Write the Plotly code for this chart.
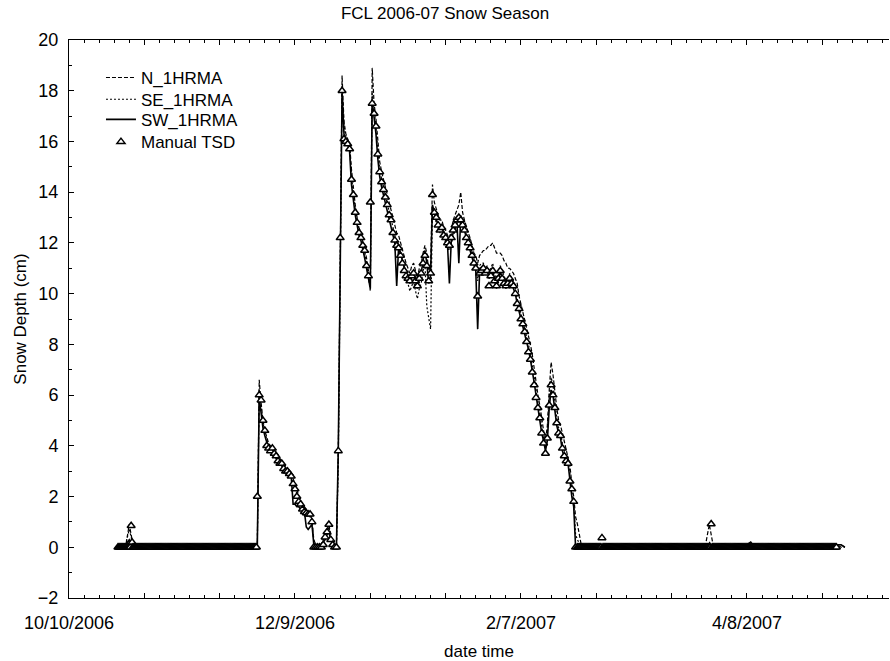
import pandas as pd
import plotly.graph_objects as go

# ---------------- data ----------------
# tick positions (every 20 days) and their labels
tick_dates = ["2006-10-10", "2006-10-30", "2006-11-19", "2006-12-09", "2006-12-29",
              "2007-01-18", "2007-02-07", "2007-02-27", "2007-03-19", "2007-04-08",
              "2007-04-28"]
tick_labels = ["10/10/2006", "", "", "12/9/2006", "", "", "2/7/2007", "", "", "4/8/2007", ""]

# time grids
pre_dates = pd.date_range("2006-10-23", "2006-11-28", freq="D")                  # 37 days
snow_dates = pd.date_range("2006-11-29", periods=170, freq="12h")                # 85 days, 12-hourly
post_dates = pd.date_range("2007-02-22", "2007-05-04", freq="D")                 # 72 days
manual_pre_dates = pd.date_range("2006-10-23", periods=148, freq="6h")           # to Nov 28 18:00
manual_post_dates = pd.date_range("2007-02-22", periods=276, freq="6h")          # to May 1 18:00

# bare ground before the season (daily)
pre_n = [0.1, 0.1, 0.0, 0.9, 0.1, 0.1, 0.0, 0.1, 0.1, 0.0,
         0.1, 0.1, 0.0, 0.1, 0.1, 0.0, 0.1, 0.1, 0.0, 0.1,
         0.1, 0.0, 0.1, 0.1, 0.0, 0.1, 0.1, 0.0, 0.1, 0.1,
         0.0, 0.1, 0.1, 0.0, 0.1, 0.1, 0.1]
pre_se = [0.0, 0.1, 0.1, 0.7, 0.1, 0.0, 0.1, 0.1, 0.0, 0.1,
          0.1, 0.0, 0.1, 0.1, 0.0, 0.1, 0.0, 0.1, 0.1, 0.0,
          0.1, 0.1, 0.0, 0.1, 0.1, 0.0, 0.1, 0.1, 0.0, 0.1,
          0.1, 0.0, 0.1, 0.1, 0.0, 0.1, 0.0]
pre_sw = [0.1, 0.0, 0.1, 0.3, 0.0, 0.1, 0.1, 0.0, 0.1, 0.1,
          0.0, 0.1, 0.1, 0.0, 0.1, 0.1, 0.0, 0.1, 0.0, 0.1,
          0.0, 0.1, 0.1, 0.0, 0.1, 0.0, 0.1, 0.1, 0.0, 0.1,
          0.0, 0.1, 0.0, 0.1, 0.1, 0.0, 0.1]
# manual readings before the season (6-hourly)
pre_manual = [0, 0, 0, 0, 0, 0, 0, 0, 0, 0, 0, 0, 0, 0, 0.85, 0.2, 0, 0, 0, 0,
              0, 0, 0, 0, 0, 0, 0, 0, 0, 0, 0, 0, 0, 0, 0, 0, 0, 0, 0, 0,
              0, 0, 0, 0, 0, 0, 0, 0, 0, 0, 0, 0, 0, 0, 0, 0, 0, 0, 0, 0,
              0, 0, 0, 0, 0, 0, 0, 0, 0, 0, 0, 0, 0, 0, 0, 0, 0, 0, 0, 0,
              0, 0, 0, 0, 0, 0, 0, 0, 0, 0, 0, 0, 0, 0, 0, 0, 0, 0, 0, 0,
              0, 0, 0, 0, 0, 0, 0, 0, 0, 0, 0, 0, 0, 0, 0, 0, 0, 0, 0, 0,
              0, 0, 0, 0, 0, 0, 0, 0, 0, 0, 0, 0, 0, 0, 0, 0, 0, 0, 0, 0,
              0, 0, 0, 0, 0, 0, 0, 0]

# snow season, 12-hourly
snow_sw = [0.1, 5.9, 5.3, 4.7, 4.4, 4.1, 3.9, 3.8, 3.7, 3.6,
           3.5, 3.4, 3.3, 3.2, 3.1, 3.0, 2.9, 2.9, 2.8, 1.7,
           1.7, 1.6, 1.6, 1.5, 1.5, 1.4, 0.8, 0.7, 0.8, 0.9,
           0.1, 0.0, 0.0, 0.0, 0.0, 0.2, 0.3, 0.5, 0.6, 0.3,
           0.1, 0.0, 0.0, 3.9, 12.3, 17.9, 16.3, 16.0, 15.9, 15.6,
           14.3, 13.6, 13.1, 12.7, 12.3, 12.1, 11.8, 11.4, 11.0, 10.5,
           10.2, 17.6, 17.0, 16.3, 15.3, 14.6, 14.2, 13.9, 13.6, 13.3,
           13.0, 12.7, 12.3, 12.0, 10.3, 11.8, 11.6, 11.3, 11.0, 10.8,
           10.6, 10.4, 10.7, 10.9, 10.5, 10.2, 10.6, 10.8, 11.3, 11.7,
           11.2, 10.4, 10.7, 13.5, 13.2, 12.9, 12.7, 12.5, 12.6, 12.3,
           12.1, 11.9, 10.4, 12.1, 12.4, 12.6, 12.8, 11.2, 13.0, 12.7,
           12.5, 12.2, 12.0, 11.7, 11.4, 11.1, 10.9, 8.6, 10.8, 10.9,
           11.0, 10.8, 10.9, 10.6, 10.7, 10.9, 10.5, 10.2, 10.6, 10.9,
           10.6, 10.4, 10.2, 10.4, 10.6, 10.4, 10.2, 10.0, 9.6, 9.3,
           9.0, 8.8, 8.5, 8.2, 7.8, 7.4, 7.0, 6.5, 6.0, 5.5,
           5.0, 4.5, 4.2, 3.8, 4.2, 5.5, 6.2, 6.0, 5.4, 4.8,
           4.5, 4.3, 3.8, 3.5, 3.3, 3.3, 2.6, 2.0, 1.6, 0.0]
snow_se = [0.1, 6.2, 5.5, 4.9, 4.5, 4.2, 4.0, 3.9, 3.8, 3.7,
           3.6, 3.5, 3.4, 3.3, 3.2, 3.1, 3.0, 2.9, 2.8, 2.6,
           2.4, 2.1, 1.9, 1.7, 1.6, 1.5, 1.4, 1.3, 1.2, 1.0,
           0.2, 0.0, 0.0, 0.0, 0.1, 0.3, 0.4, 0.6, 0.8, 0.4,
           0.2, 0.1, 0.0, 3.5, 12.0, 18.2, 16.6, 16.2, 16.0, 15.8,
           14.6, 13.8, 13.3, 12.9, 12.5, 12.3, 12.0, 11.6, 11.2, 10.7,
           10.1, 17.9, 17.2, 16.6, 15.6, 14.9, 14.5, 14.2, 13.9, 13.6,
           13.2, 12.9, 12.6, 12.3, 12.0, 11.9, 11.6, 11.4, 11.0, 10.7,
           10.4, 10.1, 10.3, 10.5, 10.1, 9.8, 10.2, 10.4, 10.9, 11.2,
           9.5, 9.0, 8.6, 13.3, 13.1, 12.8, 12.6, 12.4, 12.4, 12.2,
           12.0, 11.8, 11.7, 12.0, 12.3, 12.5, 12.7, 12.9, 13.1, 12.7,
           12.5, 12.3, 12.1, 11.9, 11.6, 11.4, 11.2, 10.5, 11.1, 11.2,
           11.2, 11.0, 11.1, 10.9, 11.0, 11.2, 10.8, 10.6, 10.9, 11.1,
           10.9, 10.7, 10.5, 10.6, 10.8, 10.6, 10.4, 10.2, 9.8, 9.5,
           9.2, 9.0, 8.7, 8.4, 8.0, 7.6, 7.2, 6.7, 6.2, 5.7,
           5.2, 4.7, 4.3, 4.0, 4.5, 5.9, 6.7, 6.4, 5.7, 5.1,
           4.7, 4.5, 4.1, 3.8, 3.5, 3.4, 2.9, 2.2, 1.8, 0.5]
snow_n = [0.2, 6.6, 5.7, 5.0, 4.6, 4.3, 4.1, 4.0, 3.9, 3.8,
          3.7, 3.6, 3.5, 3.4, 3.3, 3.2, 3.1, 3.0, 2.9, 2.7,
          2.5, 2.3, 2.0, 1.8, 1.7, 1.6, 1.5, 1.4, 1.3, 1.1,
          0.3, 0.1, 0.0, 0.0, 0.1, 0.3, 0.5, 0.7, 0.9, 0.5,
          0.2, 0.1, 0.0, 3.8, 12.6, 18.6, 16.8, 16.3, 16.1, 15.9,
          14.9, 14.1, 13.5, 13.0, 12.6, 12.4, 12.1, 11.8, 11.4, 10.9,
          10.3, 18.9, 17.5, 16.9, 15.9, 15.2, 14.8, 14.5, 14.2, 13.9,
          13.6, 13.3, 12.9, 12.6, 12.4, 12.3, 12.0, 11.8, 11.5, 11.2,
          11.0, 10.8, 11.1, 11.2, 10.9, 10.6, 11.0, 11.2, 11.6, 11.9,
          11.6, 10.9, 11.1, 14.3, 13.6, 13.3, 13.1, 12.9, 12.9, 12.6,
          12.5, 12.3, 12.2, 12.5, 12.9, 13.1, 13.3, 13.5, 14.0, 13.2,
          12.9, 12.6, 12.4, 12.2, 11.9, 11.6, 11.5, 11.2, 11.5, 11.6,
          11.7, 11.7, 11.8, 11.9, 11.9, 12.0, 11.8, 11.6, 11.6, 11.6,
          11.5, 11.3, 11.2, 11.0, 11.0, 10.9, 10.8, 10.6, 10.4, 9.9,
          9.6, 9.2, 9.0, 8.7, 8.4, 8.0, 7.6, 7.0, 6.6, 6.0,
          5.6, 5.0, 4.6, 4.2, 4.8, 6.2, 7.3, 6.8, 6.0, 5.5,
          5.0, 4.8, 4.5, 4.2, 3.8, 3.6, 3.2, 2.5, 2.0, 1.2]
snow_manual = [2.0, 6.0, 5.8, 5.0, 4.6, 4.0, 3.9, 3.8, 3.9, 3.7,
               3.6, 3.4, 3.3, 3.3, 3.1, 3.0, 3.0, 2.9, 2.8, 2.5,
               2.3, 2.0, 1.8, 1.7, 1.5, 1.4, 1.35, 1.3, 1.3, 1.0,
               0.0, 0.0, 0.0, 0.0, 0.0, 0.1, 0.4, 0.6, 0.9, 0.3,
               0.1, 0.0, 0.0, 3.8, 12.2, 18.0, 16.1, 16.0, 15.9, 15.7,
               14.5, 13.9, 13.2, 12.8, 12.4, 12.2, 11.9, 11.7, 11.1, 10.7,
               13.6, 17.5, 17.1, 16.6, 15.5, 14.8, 14.4, 14.1, 13.8, 13.5,
               13.1, 12.9, 12.4, 12.1, 11.9, 11.8, 11.5, 11.2, 10.9, 10.7,
               10.6, 10.5, 10.7, 10.8, 10.5, 10.3, 10.6, 10.8, 11.2, 11.5,
               11.1, 10.5, 10.8, 13.9, 13.2, 13.0, 12.7, 12.5, 12.6, 12.3,
               12.2, 12.0, 11.9, 12.2, 12.5, 12.7, 12.9, 13.0, 12.9, 12.7,
               12.5, 12.2, 12.0, 11.8, 11.5, 11.2, 11.0, 9.9, 10.8, 10.9,
               11.0, 10.8, 10.9, 10.3, 10.7, 10.9, 10.5, 10.3, 10.6, 10.9,
               10.6, 10.4, 10.3, 10.4, 10.6, 10.4, 10.3, 10.0, 9.6, 9.4,
               9.0, 8.8, 8.5, 8.1, 7.7, 7.4, 6.9, 6.4, 5.9, 5.5,
               5.1, 4.5, 4.1, 3.7, 4.3, 5.6, 6.4, 6.0, 5.5, 4.9,
               4.5, 4.4, 3.9, 3.6, 3.4, 3.3, 2.6, 2.3, 1.8, 0.0]

# bare ground after melt-out (daily)
post_n = [0.9, 0.1, 0.0, 0.1, 0.1, 0.0, 0.1, 0.1, 0.0, 0.1,
          0.1, 0.0, 0.1, 0.1, 0.0, 0.1, 0.1, 0.0, 0.1, 0.1,
          0.0, 0.1, 0.1, 0.0, 0.1, 0.1, 0.0, 0.1, 0.1, 0.0,
          0.1, 0.1, 0.0, 0.1, 0.1, 0.9, 0.1, 0.0, 0.1, 0.1,
          0.0, 0.1, 0.1, 0.0, 0.1, 0.1, 0.0, 0.1, 0.1, 0.0,
          0.1, 0.1, 0.0, 0.1, 0.1, 0.0, 0.1, 0.1, 0.0, 0.1,
          0.1, 0.0, 0.1, 0.1, 0.0, 0.1, 0.1, 0.0, 0.1, 0.1,
          0.0, 0.0]
post_se = [0.3, 0.0, 0.1, 0.1, 0.0, 0.1, 0.0, 0.1, 0.1, 0.0,
           0.1, 0.1, 0.0, 0.1, 0.0, 0.1, 0.1, 0.0, 0.1, 0.0,
           0.1, 0.1, 0.0, 0.1, 0.1, 0.0, 0.1, 0.0, 0.1, 0.1,
           0.0, 0.1, 0.1, 0.0, 0.1, 0.2, 0.0, 0.1, 0.1, 0.0,
           0.1, 0.0, 0.1, 0.1, 0.0, 0.1, 0.1, 0.0, 0.1, 0.0,
           0.1, 0.1, 0.0, 0.1, 0.1, 0.0, 0.1, 0.0, 0.1, 0.1,
           0.0, 0.1, 0.1, 0.0, 0.1, 0.0, 0.1, 0.1, 0.0, 0.1,
           0.1, 0.0]
post_sw = [0.0, 0.1, 0.0, 0.1, 0.1, 0.0, 0.1, 0.0, 0.1, 0.1,
           0.0, 0.1, 0.1, 0.0, 0.1, 0.0, 0.1, 0.1, 0.0, 0.1,
           0.0, 0.1, 0.1, 0.0, 0.1, 0.0, 0.1, 0.1, 0.0, 0.1,
           0.1, 0.0, 0.1, 0.0, 0.1, 0.1, 0.0, 0.1, 0.0, 0.1,
           0.1, 0.0, 0.1, 0.1, 0.0, 0.1, 0.2, 0.0, 0.1, 0.1,
           0.0, 0.1, 0.0, 0.1, 0.1, 0.0, 0.1, 0.1, 0.0, 0.1,
           0.0, 0.1, 0.1, 0.0, 0.1, 0.0, 0.1, 0.1, 0.0, 0.1,
           0.1, 0.0]
# manual readings after melt-out (6-hourly)
post_manual = [0, 0, 0, 0, 0, 0, 0, 0, 0, 0, 0, 0, 0, 0, 0, 0, 0, 0, 0, 0,
               0, 0, 0, 0, 0, 0, 0.37, 0, 0, 0, 0, 0, 0, 0, 0, 0, 0, 0, 0, 0,
               0, 0, 0, 0, 0, 0, 0, 0, 0, 0, 0, 0, 0, 0, 0, 0, 0, 0, 0, 0,
               0, 0, 0, 0, 0, 0, 0, 0, 0, 0, 0, 0, 0, 0, 0, 0, 0, 0, 0, 0,
               0, 0, 0, 0, 0, 0, 0, 0, 0, 0, 0, 0, 0, 0, 0, 0, 0, 0, 0, 0,
               0, 0, 0, 0, 0, 0, 0, 0, 0, 0, 0, 0, 0, 0, 0, 0, 0, 0, 0, 0,
               0, 0, 0, 0, 0, 0, 0, 0, 0, 0, 0, 0, 0, 0, 0, 0, 0, 0, 0, 0,
               0, 0, 0.92, 0, 0, 0, 0, 0, 0, 0, 0, 0, 0, 0, 0, 0, 0, 0, 0, 0,
               0, 0, 0, 0, 0, 0, 0, 0, 0, 0, 0, 0, 0, 0, 0, 0, 0, 0, 0, 0,
               0, 0, 0, 0, 0, 0, 0, 0, 0, 0, 0, 0, 0, 0, 0, 0, 0, 0, 0, 0,
               0, 0, 0, 0, 0, 0, 0, 0, 0, 0, 0, 0, 0, 0, 0, 0, 0, 0, 0, 0,
               0, 0, 0, 0, 0, 0, 0, 0, 0, 0, 0, 0, 0, 0, 0, 0, 0, 0, 0, 0,
               0, 0, 0, 0, 0, 0, 0, 0, 0, 0, 0, 0, 0, 0, 0, 0, 0, 0, 0, 0,
               0, 0, 0, 0, 0, 0, 0, 0, 0, 0, 0, 0, 0, 0, 0, 0]

# ---------------- figure ----------------
FONT = "Liberation Sans, Arial, sans-serif"

line_x = list(pre_dates) + list(snow_dates) + list(post_dates)
man_x = list(manual_pre_dates) + list(snow_dates) + list(manual_post_dates)

fig = go.Figure()
fig.add_trace(go.Scatter(x=line_x, y=pre_n + snow_n + post_n, mode="lines", name="N_1HRMA",
                         legend="legend",
                         line=dict(color="black", width=1.2, dash="4px,2px")))
fig.add_trace(go.Scatter(x=line_x, y=pre_se + snow_se + post_se, mode="lines", name="SE_1HRMA",
                         legend="legend2",
                         line=dict(color="black", width=1.2, dash="2px,2px")))
fig.add_trace(go.Scatter(x=line_x, y=pre_sw + snow_sw + post_sw, mode="lines", name="SW_1HRMA",
                         legend="legend3",
                         line=dict(color="black", width=1.6)))
fig.add_trace(go.Scatter(x=man_x, y=pre_manual + snow_manual + post_manual, mode="markers",
                         name="Manual TSD", legend="legend4",
                         marker=dict(symbol="triangle-up", size=7, color="white",
                                     line=dict(color="black", width=1.5))))

leg_common = dict(x=0.039, xanchor="left", yanchor="middle", bgcolor="rgba(0,0,0,0)",
                  borderwidth=0, font=dict(family=FONT, size=17, color="black"))
fig.update_layout(
    width=890, height=661,
    template="none",
    paper_bgcolor="white", plot_bgcolor="white",
    margin=dict(l=69, r=1, t=40, b=63),
    font=dict(family=FONT, size=18, color="black"),
    title=dict(text="FCL 2006-07 Snow Season", x=0.5, xref="container", xanchor="center",
               y=1 - 13 / 661, yref="container", yanchor="middle",
               font=dict(family=FONT, size=17, color="black")),
    showlegend=True,
    legend=dict(y=0.932, **leg_common),
    legend2=dict(y=0.893, **leg_common),
    legend3=dict(y=0.857, **leg_common),
    legend4=dict(y=0.817, **leg_common),
)

fig.update_xaxes(
    type="date", range=["2006-10-10", "2007-05-15 17:00"],
    tickmode="array", tickvals=tick_dates, ticktext=tick_labels,
    ticks="inside", ticklen=5, tickwidth=1, tickcolor="black",
    minor=dict(dtick=4 * 86400000, tick0="2006-10-10", ticks="inside", ticklen=3,
               tickcolor="black", showgrid=False),
    showline=True, linecolor="black", linewidth=1, mirror="ticks",
    showgrid=False, zeroline=False, ticklabelstandoff=8,
    title=dict(text="date time", font=dict(family=FONT, size=17), standoff=14),
    tickfont=dict(family=FONT, size=18),
)
fig.update_yaxes(
    range=[-2, 20], tick0=0, dtick=2,
    ticks="inside", ticklen=5, tickwidth=1, tickcolor="black",
    minor=dict(dtick=1, ticks="inside", ticklen=3, tickcolor="black", showgrid=False),
    showline=True, linecolor="black", linewidth=1, mirror=False,
    showgrid=False, zeroline=False, ticklabelstandoff=6,
    title=dict(text="Snow Depth (cm)", font=dict(family=FONT, size=17), standoff=6),
    tickfont=dict(family=FONT, size=18),
)

fig.write_html("out.html")
